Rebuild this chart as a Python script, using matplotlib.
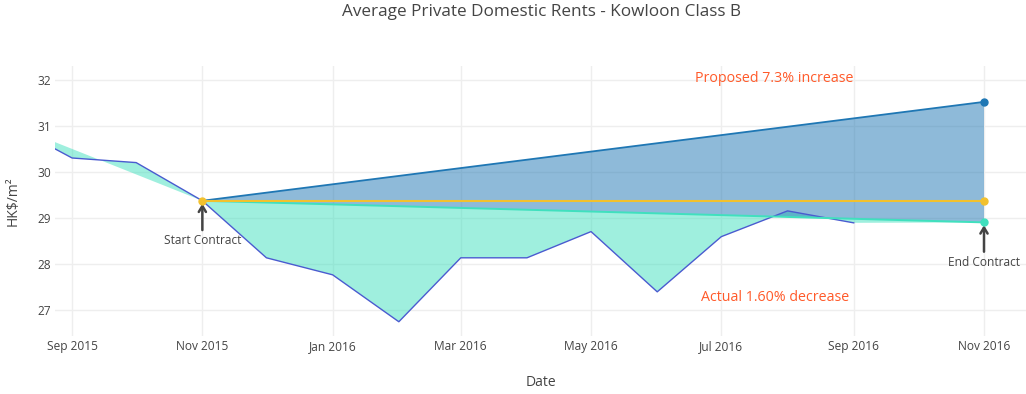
import numpy as np
import pandas as pd
import matplotlib
matplotlib.use('Agg')
import matplotlib.pyplot as plt
import matplotlib.dates as mdates

plt.rcParams['font.family'] = ['Open Sans', 'DejaVu Sans']

# data
actual_dates = pd.to_datetime(['2015-08-01', '2015-09-01', '2015-10-01', '2015-11-01',
                               '2015-12-01', '2016-01-01', '2016-02-01', '2016-03-01',
                               '2016-04-01', '2016-05-01', '2016-06-01', '2016-07-01',
                               '2016-08-01', '2016-09-01'])
actual = [31.07, 30.30, 30.20, 29.37, 28.13, 27.76, 26.74, 28.13,
          28.13, 28.70, 27.39, 28.59, 29.15, 28.89]

trend_dates = pd.to_datetime(['2015-08-01', '2015-11-01', '2016-11-01'])
trend = [31.07, 29.37, 28.90]

contract_dates = pd.to_datetime(['2015-11-01', '2016-11-01'])
proposed = [29.37, 31.52]
flat = [29.37, 29.37]

blue = '#1f77b4'
green = '#40e0be'
yellow = '#f2c12e'
txt = '#444444'
orange = '#ff5a2a'

fig = plt.figure(figsize=(10.26, 3.94), dpi=100)
ax = fig.add_axes([55 / 1026, 1 - 336 / 394, 971 / 1026, 270 / 394])

ax_num = mdates.date2num(actual_dates)
tr_num = mdates.date2num(trend_dates)
ct_num = mdates.date2num(contract_dates)

# fill between trend and actual (tonexty style)
poly_x = np.concatenate([tr_num, ax_num[::-1]])
poly_y = np.concatenate([trend, actual[::-1]])
ax.fill(poly_x, poly_y, color=green, alpha=0.5, lw=0, zorder=1)

# fill between proposed and trend
poly_x = np.concatenate([ct_num, tr_num[::-1]])
poly_y = np.concatenate([proposed, trend[::-1]])
ax.fill(poly_x, poly_y, color=blue, alpha=0.5, lw=0, zorder=1.5)

ax.plot(actual_dates, actual, color='#4a5bd0', lw=1, zorder=2)
# actual trend during the contract only
ax.plot(trend_dates[1:], trend[1:], color=green, lw=1.4, zorder=2)
ax.plot(contract_dates, proposed, color=blue, lw=1.3, zorder=3)
ax.plot(contract_dates, flat, color=yellow, lw=1.5, zorder=3)

ax.plot(contract_dates[-1:], proposed[-1:], 'o', color=blue, ms=5, zorder=4)
ax.plot(contract_dates, flat, 'o', color=yellow, ms=5, zorder=4)
ax.plot(trend_dates[-1:], trend[-1:], 'o', color=green, ms=5, zorder=4)

# annotations
arrow = dict(arrowstyle='->,head_length=0.5,head_width=0.3', color=txt, lw=1.8,
             shrinkA=1, shrinkB=2)
ax.annotate('Start Contract', xy=(contract_dates[0], flat[0]), xytext=(0, -40),
            textcoords='offset pixels', ha='center', va='center', fontsize=8.6,
            color=txt, arrowprops=arrow)
ax.annotate('End Contract', xy=(trend_dates[-1], trend[-1]), xytext=(0, -40),
            textcoords='offset pixels', ha='center', va='center', fontsize=8.6,
            color=txt, arrowprops=arrow)
ax.text(pd.Timestamp('2016-07-26'), 32.03, 'Proposed 7.3% increase', ha='center',
        va='center', fontsize=10.3, color=orange)
ax.text(pd.Timestamp('2016-07-26'), 27.27, 'Actual 1.60% decrease', ha='center',
        va='center', fontsize=10.3, color=orange)

ax.set_xlim(pd.Timestamp('2015-08-24'), pd.Timestamp('2016-11-20 16:00'))
ax.set_ylim(26.43, 32.30)
ax.set_yticks([27, 28, 29, 30, 31, 32])
ax.xaxis.set_major_locator(mdates.MonthLocator(bymonth=[1, 3, 5, 7, 9, 11]))
ax.xaxis.set_major_formatter(mdates.DateFormatter('%b %Y'))

for s in ax.spines.values():
    s.set_visible(False)
ax.grid(True, color='#eeeeee', lw=1, zorder=0)
ax.set_axisbelow(True)
ax.tick_params(length=0, labelsize=8.6, colors=txt)
ax.tick_params(axis='y', pad=3)
ax.tick_params(axis='x', pad=3)

ax.set_xlabel('Date', fontsize=10, color=txt, labelpad=16)
ax.set_ylabel('HK$/m²', fontsize=10, color=txt, labelpad=12)
fig.text(541 / 1026, 1 - 12 / 394, 'Average Private Domestic Rents - Kowloon Class B',
         ha='center', va='center', fontsize=12.3, color=txt)

fig.savefig('out.png', dpi=100)
